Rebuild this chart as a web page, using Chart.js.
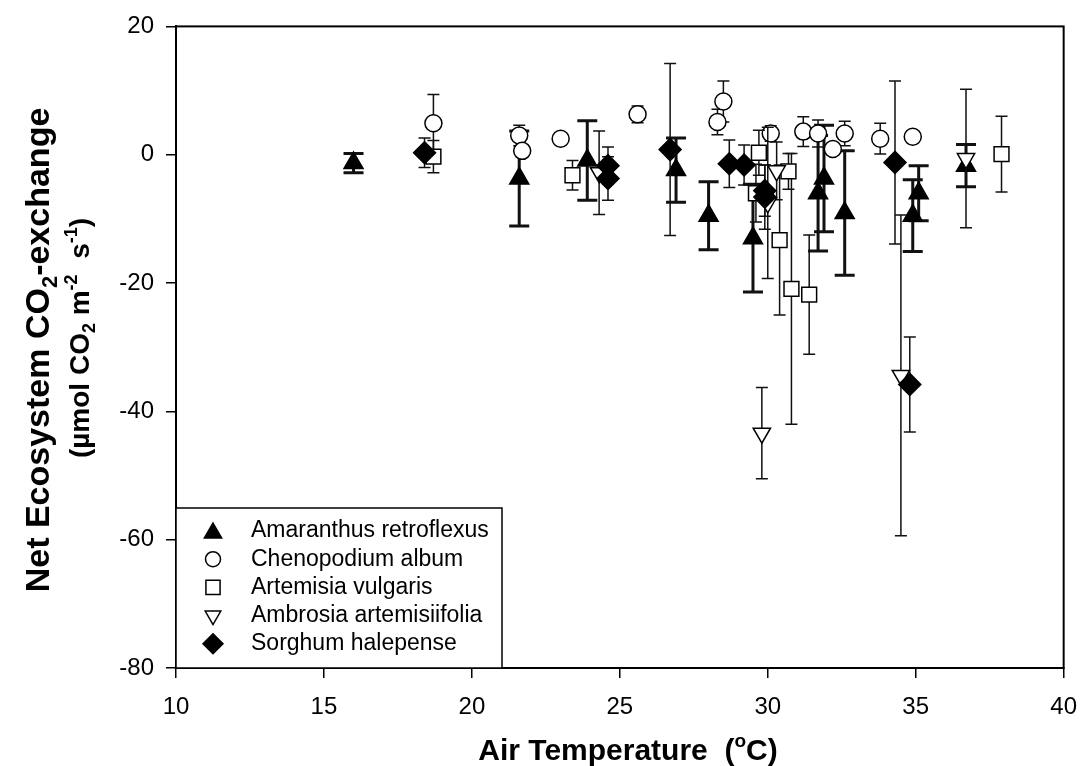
<!DOCTYPE html>
<html>
<head>
<meta charset="utf-8">
<script src="https://cdn.jsdelivr.net/npm/chart.js@4/dist/chart.umd.min.js"></script>
<style>
  html, body { margin: 0; padding: 0; background: #fff; }
  #wrap { width: 1092px; height: 766px; }
</style>
</head>
<body>
<div id="wrap"><canvas id="chart" width="1092" height="766"></canvas></div>
<script>
// values (air temperature in °C, NEE, ± error)
const amaranthusX = [16.0, 21.6, 23.9, 26.9, 28.0, 29.5, 31.7, 31.9, 32.6, 34.9, 35.1, 36.7];
const amaranthusY = [-1.3, -3.7, -0.9, -2.4, -9.5, -13.0, -6.0, -3.7, -9.1, -9.5, -6.0, -1.7];
const amaranthusErr = [1.5, 7.4, 6.2, 5.0, 5.3, 8.4, 9.0, 8.3, 9.7, 5.6, 4.3, 3.3];

const chenopodiumX = [18.7, 21.6, 21.7, 23.0, 25.6, 28.3, 28.5, 30.1, 31.2, 31.7, 32.2, 32.6, 33.8, 34.9];
const chenopodiumY = [4.9, 3.0, 0.6, 2.5, 6.3, 5.1, 8.3, 3.3, 3.6, 3.3, 0.9, 3.3, 2.5, 2.8];
const chenopodiumErr = [4.5, 1.6, 0.8, 0.4, 1.3, 2.0, 3.2, 1.2, 2.3, 2.1, 0.4, 1.9, 2.4, 0.4];

const artemisiaX = [18.7, 23.4, 29.6, 29.7, 30.4, 30.7, 30.8, 31.4, 37.9];
const artemisiaY = [-0.3, -3.2, -6.0, 0.3, -13.3, -2.6, -20.9, -21.8, 0.1];
const artemisiaErr = [2.5, 2.3, 4.5, 3.5, 11.7, 2.8, 21.1, 9.3, 5.9];

const ambrosiaX = [24.3, 29.8, 30.0, 30.3, 34.5, 36.7];
const ambrosiaY = [-2.8, -43.4, -7.5, -2.5, -34.4, -0.6];
const ambrosiaErr = [6.5, 7.1, 11.8, 4.5, 25.0, 10.8];

const sorghumX = [18.4, 24.6, 24.6, 26.7, 28.7, 29.2, 29.9, 29.9, 34.3, 34.8];
const sorghumY = [0.3, -1.7, -3.7, 0.8, -1.4, -1.6, -5.6, -6.6, -1.2, -35.8];
const sorghumErr = [2.3, 2.9, 3.4, 13.4, 3.7, 3.1, 4.0, 5.0, 12.7, 7.4];

const xTickValues = [10, 15, 20, 25, 30, 35, 40];
const yTickValues = [-80, -60, -40, -20, 0, 20];

const FONT = "'Liberation Sans', Arial, Helvetica, sans-serif";

function pts(xs, ys) {
  return xs.map((x, i) => ({ x: x, y: ys[i] }));
}

// series: drawn in this order, later ones on top
const series = [
  { label: 'Amaranthus retroflexus', x: amaranthusX, y: amaranthusY, err: amaranthusErr,
    style: 'triangle', radius: 11, rotation: 0, fill: '#000', errWidth: 3, cap: 10, legendRadius: 10 },
  { label: 'Chenopodium album', x: chenopodiumX, y: chenopodiumY, err: chenopodiumErr,
    style: 'circle', radius: 8.5, rotation: 0, fill: '#fff', errWidth: 1.5, cap: 6, legendRadius: 7.5 },
  { label: 'Artemisia vulgaris', x: artemisiaX, y: artemisiaY, err: artemisiaErr,
    style: 'rect', radius: 10.5, rotation: 0, fill: '#fff', errWidth: 1.5, cap: 6, legendRadius: 10 },
  { label: 'Ambrosia artemisiifolia', x: ambrosiaX, y: ambrosiaY, err: ambrosiaErr,
    style: 'triangle', radius: 10, rotation: 180, fill: '#fff', errWidth: 1.5, cap: 6, legendRadius: 9 },
  { label: 'Sorghum halepense', x: sorghumX, y: sorghumY, err: sorghumErr,
    style: 'rectRot', radius: 11, rotation: 0, fill: '#000', errWidth: 1.5, cap: 6, legendRadius: 10 }
];

const datasets = series.map((s, i) => ({
  label: s.label,
  data: pts(s.x, s.y),
  errors: s.err,
  errWidth: s.errWidth,
  capHalf: s.cap,
  pointStyle: s.style,
  pointRadius: s.radius,
  pointHoverRadius: s.radius,
  pointRotation: s.rotation,
  pointBackgroundColor: s.fill,
  pointBorderColor: '#000',
  pointBorderWidth: 1.5,
  showLine: false,
  order: series.length - i
}));

// error bars go under each series' own markers
const errorBarPlugin = {
  id: 'errorBars',
  beforeDatasetDraw(chart, args) {
    const ds = chart.data.datasets[args.index];
    const xs = chart.scales.x, ys = chart.scales.y;
    const ctx = chart.ctx;
    ctx.save();
    ctx.strokeStyle = '#111';
    ctx.lineWidth = ds.errWidth;
    ds.data.forEach((p, i) => {
      const e = ds.errors[i];
      const px = xs.getPixelForValue(p.x);
      const top = ys.getPixelForValue(p.y + e);
      const bot = ys.getPixelForValue(p.y - e);
      ctx.beginPath();
      ctx.moveTo(px, top); ctx.lineTo(px, bot);
      ctx.moveTo(px - ds.capHalf, top); ctx.lineTo(px + ds.capHalf, top);
      ctx.moveTo(px - ds.capHalf, bot); ctx.lineTo(px + ds.capHalf, bot);
      ctx.stroke();
    });
    ctx.restore();
  }
};

// draws a run of text pieces (with sub/superscripts) centred on (cx, cy)
function drawRich(ctx, pieces, cx, cy, angle) {
  ctx.save();
  ctx.translate(cx, cy);
  ctx.rotate(angle);
  ctx.textBaseline = 'alphabetic';
  ctx.textAlign = 'left';
  ctx.fillStyle = '#000';
  let total = 0;
  pieces.forEach(p => { ctx.font = p.font; total += ctx.measureText(p.t).width; });
  let x = -total / 2;
  pieces.forEach(p => {
    ctx.font = p.font;
    ctx.fillText(p.t, x, p.dy || 0);
    x += ctx.measureText(p.t).width;
  });
  ctx.restore();
}

const decorPlugin = {
  id: 'decor',
  afterDraw(chart) {
    const ctx = chart.ctx;
    const a = chart.chartArea;

    // frame
    ctx.save();
    ctx.strokeStyle = '#000';
    ctx.lineWidth = 2;
    ctx.strokeRect(a.left, a.top, a.right - a.left, a.bottom - a.top);
    ctx.restore();

    // legend box in the lower-left corner
    const lx = a.left, ly = 508, lw = 326, lh = a.bottom - ly;
    ctx.save();
    ctx.fillStyle = '#fff';
    ctx.fillRect(lx, ly, lw, lh);
    ctx.strokeStyle = '#000';
    ctx.lineWidth = 1.5;
    ctx.strokeRect(lx, ly, lw, lh);
    series.forEach((s, i) => {
      const y = 531 + i * 28.2;
      ctx.fillStyle = s.fill;
      ctx.strokeStyle = '#000';
      ctx.lineWidth = 1.5;
      Chart.helpers.drawPoint(ctx, {
        pointStyle: s.style, radius: s.legendRadius, rotation: s.rotation, borderWidth: 1.5
      }, lx + 37, y + (s.style === 'triangle' && s.rotation === 0 ? 2 : 0));
      ctx.fillStyle = '#000';
      ctx.font = '23px ' + FONT;
      ctx.textBaseline = 'middle';
      ctx.textAlign = 'left';
      ctx.fillText(s.label, lx + 75, y);
    });
    ctx.restore();

    // axis titles
    const big = 'bold 34px ' + FONT;
    const bigSub = 'bold 22px ' + FONT;
    drawRich(ctx, [
      { t: 'Net Ecosystem CO', font: big },
      { t: '2', font: bigSub, dy: 8 },
      { t: '-exchange', font: big }
    ], 49, 350, -Math.PI / 2);

    const mid = 'bold 28px ' + FONT;
    const midSub = 'bold 18px ' + FONT;
    drawRich(ctx, [
      { t: '(\u00b5mol CO', font: mid },
      { t: '2', font: midSub, dy: 6 },
      { t: ' m', font: mid },
      { t: '-2', font: midSub, dy: -12 },
      { t: '  s', font: mid },
      { t: '-1', font: midSub, dy: -12 },
      { t: ')', font: mid }
    ], 89, 338, -Math.PI / 2);

    drawRich(ctx, [
      { t: 'Air Temperature  (', font: 'bold 30px ' + FONT },
      { t: 'o', font: 'bold 19px ' + FONT, dy: -13 },
      { t: 'C)', font: 'bold 30px ' + FONT }
    ], 628, 760, 0);
  }
};

new Chart(document.getElementById('chart'), {
  type: 'scatter',
  data: { datasets: datasets },
  options: {
    responsive: false,
    animation: false,
    events: [],
    layout: { padding: { top: 22, right: 16, left: 0, bottom: 0 } },
    plugins: {
      legend: { display: false },
      tooltip: { enabled: false }
    },
    scales: {
      x: {
        type: 'linear',
        min: 10,
        max: 40,
        afterBuildTicks: s => { s.ticks = xTickValues.map(v => ({ value: v })); },
        afterFit: s => { s.height = 98; },
        grid: { drawOnChartArea: false, drawTicks: true, tickLength: 10, color: '#000', lineWidth: 1.5 },
        border: { display: true, color: '#000', width: 2 },
        ticks: { color: '#000', font: { family: FONT, size: 24 }, padding: 15, maxRotation: 0 }
      },
      y: {
        type: 'linear',
        min: -80,
        max: 20,
        afterBuildTicks: s => { s.ticks = yTickValues.map(v => ({ value: v })); },
        afterFit: s => { s.width = 176; },
        grid: { drawOnChartArea: false, drawTicks: true, tickLength: 10, color: '#000', lineWidth: 1.5 },
        border: { display: true, color: '#000', width: 2 },
        ticks: { color: '#000', font: { family: FONT, size: 24 }, padding: 12 }
      }
    }
  },
  plugins: [errorBarPlugin, decorPlugin]
});
</script>
</body>
</html>
